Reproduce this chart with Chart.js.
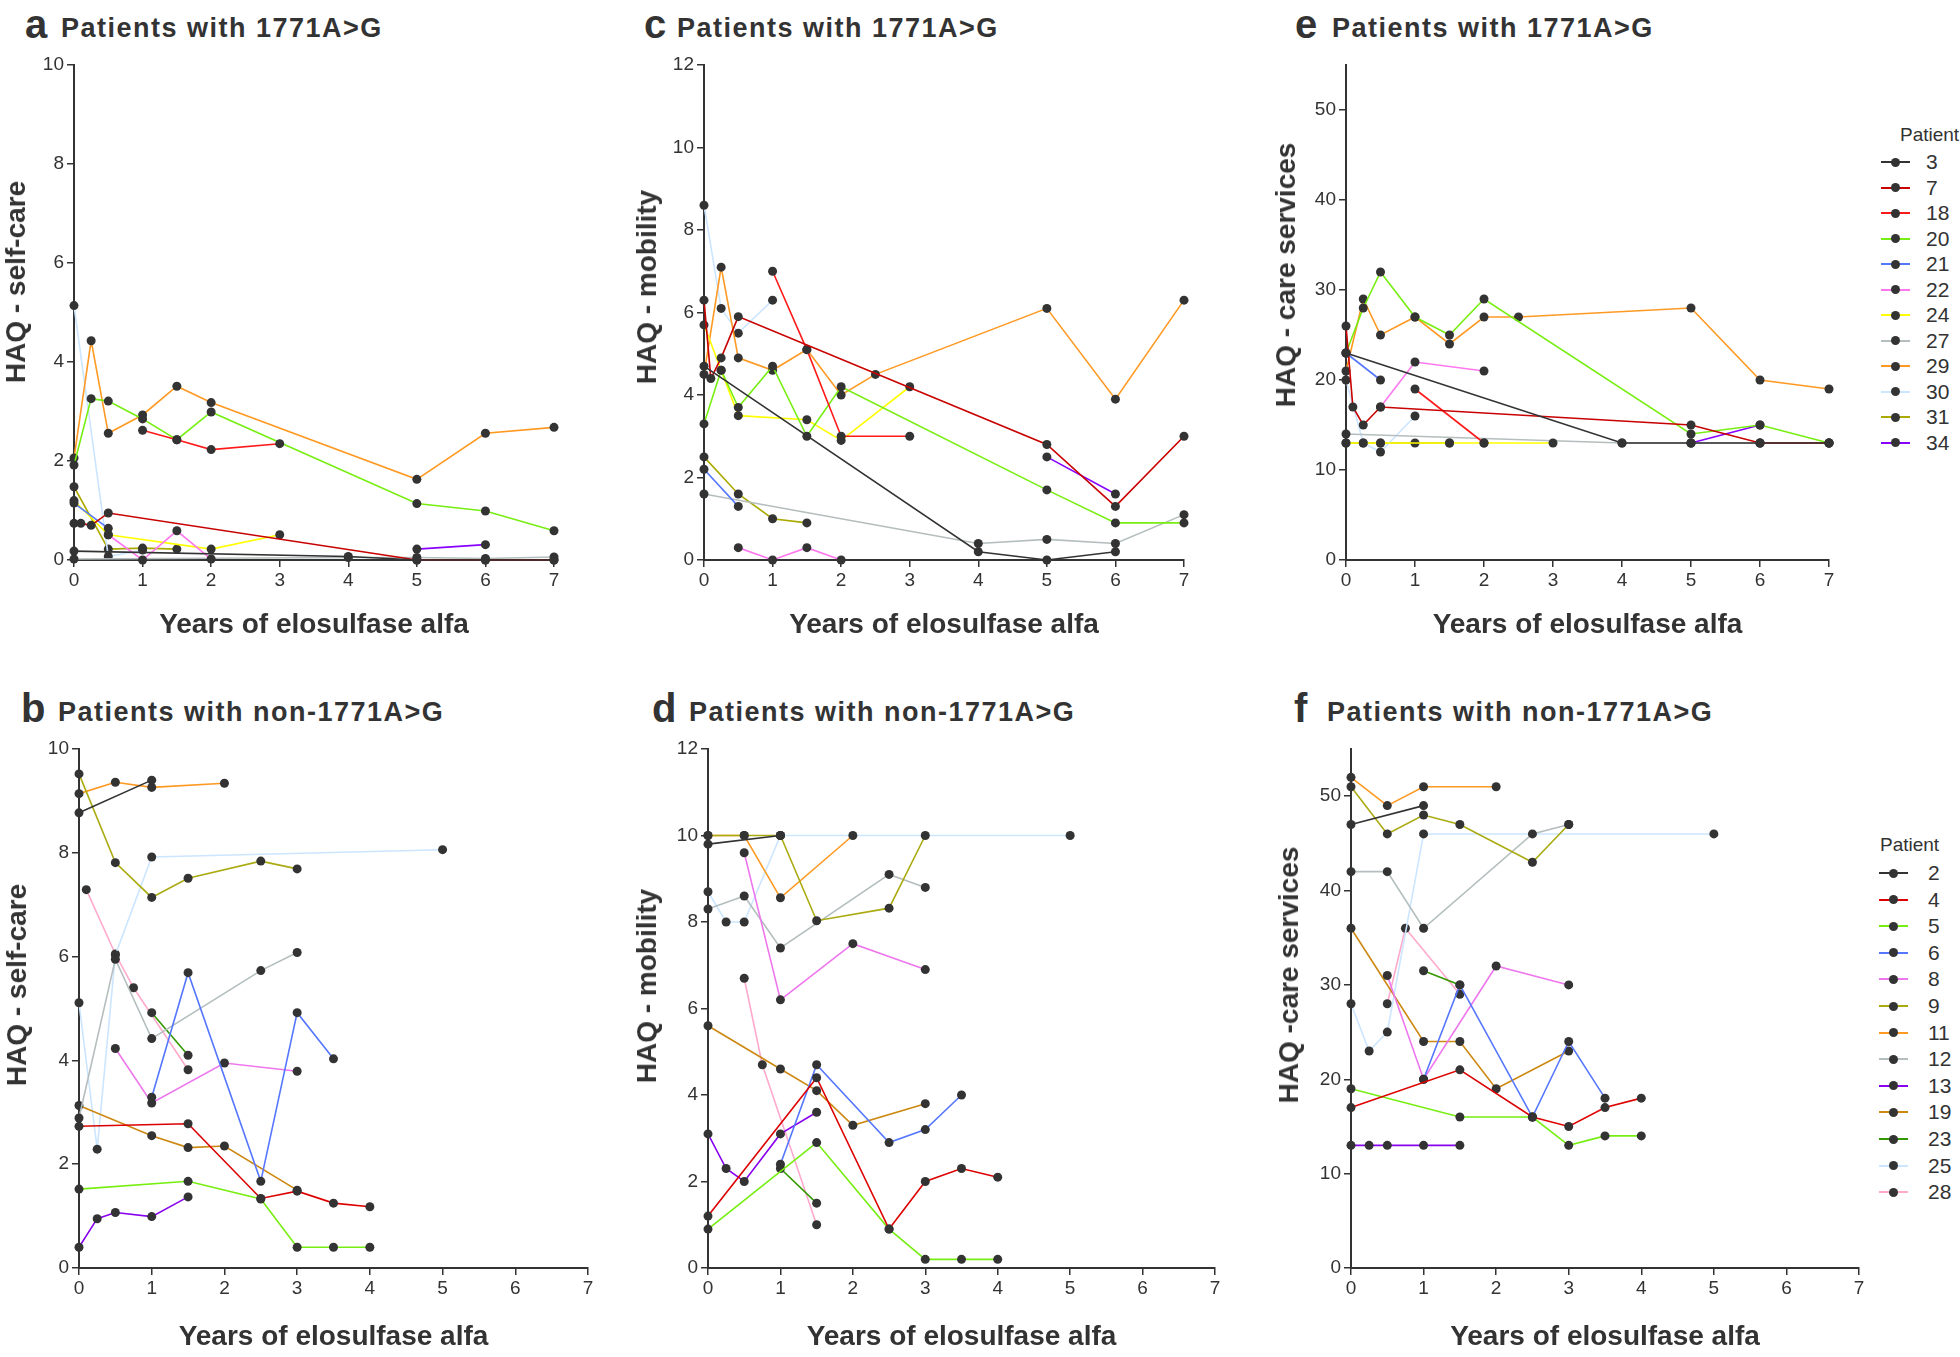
<!DOCTYPE html>
<html>
<head>
<meta charset="utf-8">
<title>HAQ domains during elosulfase alfa treatment</title>
<script src="https://cdn.jsdelivr.net/npm/chart.js"></script>
<style>
  body { margin: 0; background: #fff; width: 1960px; height: 1357px; position: relative; overflow: hidden;
         font-family: 'Liberation Sans', Arial, sans-serif; color: #333; }
  canvas { position: absolute; }
  .letter { position: absolute; font-size: 40px; font-weight: bold; line-height: 1; }
  .title { position: absolute; font-size: 27px; font-weight: bold; line-height: 1; letter-spacing: 1.5px; white-space: nowrap; }
  .ytitle { position: absolute; font-size: 28px; font-weight: bold; line-height: 1; white-space: nowrap;
            transform: translate(-50%, -50%) rotate(-90deg); }
  .lg { position: absolute; font-size: 21px; line-height: 22px; white-space: nowrap; }
  .lg-head { position: absolute; font-size: 19px; line-height: 22px; white-space: nowrap; }
  .lg-line { position: absolute; height: 2px; }
  .lg-dot { position: absolute; width: 9px; height: 9px; border-radius: 50%; background: #333; }
</style>
</head>
<body>
<canvas id="panelA"></canvas>
<canvas id="panelB"></canvas>
<canvas id="panelC"></canvas>
<canvas id="panelD"></canvas>
<canvas id="panelE"></canvas>
<canvas id="panelF"></canvas>
<script>
// ---- data ----
const yearTicks = [0, 1, 2, 3, 4, 5, 6, 7];

// patients with 1771A>G (panels a, c, e)
const patientsG = ['3', '7', '18', '20', '21', '22', '24', '27', '29', '30', '31', '34'];
// patients with non-1771A>G (panels b, d, f)
const patientsN = ['2', '4', '5', '6', '8', '9', '11', '12', '13', '19', '23', '25', '28'];

// each entry: [years, score] points of one patient, same order as the patient list
const selfCareG = [
  [[0, 0.18], [4, 0.07], [5, 0], [6, 0], [7, 0]],
  [[0, 0.74], [0.1, 0.74], [0.25, 0.7], [0.5, 0.95], [5, 0], [6, 0], [7, 0]],
  [[1, 2.62], [1.5, 2.43], [2, 2.23], [3, 2.35]],
  [[0, 1.92], [0.25, 3.26], [0.5, 3.21], [1, 2.85], [1.5, 2.43], [2, 2.99], [5, 1.14], [6, 0.99], [7, 0.59]],
  [[0, 1.15], [0.5, 0.64]],
  [[0.5, 0.51], [1, 0], [1.5, 0.59], [2, 0.02]],
  [[0, 1.2], [0.5, 0.51], [2, 0.22], [3, 0.51]],
  [[0, 0.02], [4, 0.05], [5, 0.05], [6, 0.03], [7, 0.06]],
  [[0, 2.06], [0.25, 4.43], [0.5, 2.56], [1, 2.93], [1.5, 3.51], [2, 3.18], [5, 1.63], [6, 2.56], [7, 2.68]],
  [[0, 5.14], [0.5, 0.07], [1, 0.2]],
  [[0, 1.48], [0.5, 0.22], [1, 0.24], [1.5, 0.22]],
  [[5, 0.22], [6, 0.31]]
];

const mobilityG = [
  [[0, 4.7], [4, 0.2], [5, 0], [6, 0.2]],
  [[0, 6.3], [0.1, 4.4], [0.25, 4.9], [0.5, 5.9], [5, 2.8], [6, 1.3], [7, 3.0]],
  [[1, 7.0], [1.5, 5.1], [2, 3.0], [3, 3.0]],
  [[0, 3.3], [0.25, 4.6], [0.5, 3.7], [1, 4.7], [1.5, 3.0], [2, 4.2], [5, 1.7], [6, 0.9], [7, 0.9]],
  [[0, 2.2], [0.5, 1.3]],
  [[0.5, 0.3], [1, 0], [1.5, 0.3], [2, 0]],
  [[0, 5.7], [0.25, 4.6], [0.5, 3.5], [1.5, 3.4], [2, 2.9], [3, 4.2]],
  [[0, 1.6], [4, 0.4], [5, 0.5], [6, 0.4], [7, 1.1]],
  [[0, 4.5], [0.25, 7.1], [0.5, 4.9], [1, 4.6], [1.5, 5.1], [2, 4.0], [2.5, 4.5], [5, 6.1], [6, 3.9], [7, 6.3]],
  [[0, 8.6], [0.25, 6.1], [0.5, 5.5], [1, 6.3]],
  [[0, 2.5], [0.5, 1.6], [1, 1.0], [1.5, 0.9]],
  [[5, 2.5], [6, 1.6]]
];

const careG = [
  [[0, 23], [4, 13], [5, 13], [6, 13], [7, 13]],
  [[0, 26], [0.1, 17], [0.25, 15], [0.5, 17], [5, 15], [6, 13], [7, 13]],
  [[1, 19], [2, 13]],
  [[0, 23], [0.25, 28], [0.5, 32], [1, 27], [1.5, 25], [2, 29], [5, 14], [6, 15], [7, 13]],
  [[0, 23], [0.5, 20]],
  [[0.5, 17], [1, 22], [2, 21]],
  [[0, 13], [0.25, 13], [0.5, 13], [1.5, 13], [2, 13], [3, 13]],
  [[0, 14], [4, 13], [5, 13], [6, 13], [7, 13]],
  [[0, 21], [0.25, 29], [0.5, 25], [1, 27], [1.5, 24], [2, 27], [2.5, 27], [5, 28], [6, 20], [7, 19]],
  [[0, 20], [0.25, 13], [0.5, 12], [1, 16]],
  [[0, 13], [0.5, 13], [1, 13], [1.5, 13]],
  [[5, 13], [6, 15]]
];

const selfCareN = [
  [[0, 8.77], [1, 9.4]],
  [[0, 2.73], [1.5, 2.78], [2.5, 1.34], [3, 1.48], [3.5, 1.25], [4, 1.18]],
  [[0, 1.52], [1.5, 1.67], [2.5, 1.33], [3, 0.4], [3.5, 0.4], [4, 0.4]],
  [[1, 3.29], [1.5, 5.69], [2.5, 1.67], [3, 4.92], [3.5, 4.03]],
  [[0.5, 4.23], [1, 3.18], [2, 3.95], [3, 3.79]],
  [[0, 9.52], [0.5, 7.81], [1, 7.14], [1.5, 7.51], [2.5, 7.84], [3, 7.69]],
  [[0, 9.14], [0.5, 9.36], [1, 9.26], [2, 9.34]],
  [[0, 2.89], [0.5, 5.95], [1, 4.42], [2.5, 5.73], [3, 6.08]],
  [[0, 0.4], [0.25, 0.95], [0.5, 1.07], [1, 0.99], [1.5, 1.37]],
  [[0, 3.13], [1, 2.55], [1.5, 2.32], [2, 2.35], [3, 1.5]],
  [[1, 4.92], [1.5, 4.1]],
  [[0, 5.11], [0.25, 2.29], [0.5, 6.03], [1, 7.92], [5, 8.06]],
  [[0.1, 7.29], [0.5, 6.05], [0.75, 5.4], [1.5, 3.82]]
];

const mobilityN = [
  [[0, 9.8], [1, 10]],
  [[0, 1.2], [1.5, 4.4], [2.5, 0.9], [3, 2.0], [3.5, 2.3], [4, 2.1]],
  [[0, 0.9], [1.5, 2.9], [2.5, 0.9], [3, 0.2], [3.5, 0.2], [4, 0.2]],
  [[1, 2.4], [1.5, 4.7], [2.5, 2.9], [3, 3.2], [3.5, 4.0]],
  [[0.5, 9.6], [1, 6.2], [2, 7.5], [3, 6.9]],
  [[0, 10], [0.5, 10], [1, 10], [1.5, 8.03], [2.5, 8.32], [3, 10]],
  [[0, 10], [0.5, 10], [1, 8.56], [2, 10]],
  [[0, 8.3], [0.5, 8.6], [1, 7.4], [2.5, 9.1], [3, 8.8]],
  [[0, 3.1], [0.25, 2.3], [0.5, 2.0], [1, 3.1], [1.5, 3.6]],
  [[0, 5.6], [1, 4.6], [1.5, 4.1], [2, 3.3], [3, 3.8]],
  [[1, 2.3], [1.5, 1.5]],
  [[0, 8.7], [0.25, 8.0], [0.5, 8.0], [1, 10], [5, 10]],
  [[0.5, 6.7], [0.75, 4.7], [1.5, 1.0]]
];

const careN = [
  [[0, 47], [1, 49]],
  [[0, 17], [1.5, 21], [2.5, 16], [3, 15], [3.5, 17], [4, 18]],
  [[0, 19], [1.5, 16], [2.5, 16], [3, 13], [3.5, 14], [4, 14]],
  [[1, 20], [1.5, 30], [2.5, 16], [3, 24], [3.5, 18]],
  [[0.5, 31], [1, 20], [2, 32], [3, 30]],
  [[0, 51], [0.5, 46], [1, 48], [1.5, 47], [2.5, 43], [3, 47]],
  [[0, 52], [0.5, 49], [1, 51], [2, 51]],
  [[0, 42], [0.5, 42], [1, 36], [2.5, 46], [3, 47]],
  [[0, 13], [0.25, 13], [0.5, 13], [1, 13], [1.5, 13]],
  [[0, 36], [1, 24], [1.5, 24], [2, 19], [3, 23]],
  [[1, 31.5], [1.5, 30]],
  [[0, 28], [0.25, 23], [0.5, 25], [1, 46], [5, 46]],
  [[0.5, 28], [0.75, 36], [1.5, 29]]
];

// ---- styles ----
const coloursG = ['#333333', '#c80000', '#ff1a1a', '#77ee11', '#5577ff', '#ff77ee',
                  '#ffff00', '#b4bebe', '#ff9922', '#cce6ff', '#aaaa00', '#8800ff'];
const coloursN = ['#333333', '#dd0000', '#77ee11', '#5577ff', '#ee77ee', '#aaaa11', '#ff9922',
                  '#b4bebe', '#8800ee', '#cc8811', '#339900', '#cce6ff', '#ffaacc'];

Chart.defaults.font.family = "'Liberation Sans', Arial, sans-serif";
Chart.defaults.color = '#333';

function addText(cls, text, left, top) {
  const el = document.createElement('div');
  el.className = cls;
  el.textContent = text;
  el.style.left = left + 'px';
  el.style.top = top + 'px';
  document.body.appendChild(el);
}

// area = plot box of the panel in page pixels
function drawPanel(id, area, yMax, yStep, series, patients, colours) {
  const yW = 58, padTop = 15, padRight = 15;
  const canvas = document.getElementById(id);
  const left = area.left - yW, top = area.top - padTop;
  canvas.width = area.right + padRight - left;
  canvas.height = area.bottom + area.xH - top;
  canvas.style.left = left + 'px';
  canvas.style.top = top + 'px';

  const tickFont = { size: 19 };
  const axisGrid = { drawOnChartArea: false, tickLength: 7, color: '#333', lineWidth: 1.5 };
  const axisBorder = { color: '#333', width: 2 };

  new Chart(canvas, {
    type: 'scatter',
    data: {
      datasets: series.map((pts, i) => ({
        label: patients[i],
        data: pts.map(p => ({ x: p[0], y: p[1] })),
        showLine: true,
        borderColor: colours[i],
        borderWidth: 1.6,
        pointRadius: 4.5,
        pointBackgroundColor: '#333',
        pointBorderWidth: 0,
        clip: false
      }))
    },
    options: {
      responsive: false,
      animation: false,
      layout: { padding: { top: padTop, right: padRight, left: 0, bottom: 0 } },
      plugins: { legend: { display: false }, tooltip: { enabled: false } },
      scales: {
        x: {
          type: 'linear', min: yearTicks[0], max: yearTicks[yearTicks.length - 1],
          afterBuildTicks: s => { s.ticks = yearTicks.map(v => ({ value: v })); },
          ticks: { font: tickFont, color: '#333', padding: 2, maxRotation: 0 },
          grid: axisGrid, border: axisBorder,
          title: { display: true, text: 'Years of elosulfase alfa', color: '#333',
                   font: { size: 28, weight: 'bold' }, padding: 0 },
          afterFit: s => { s.height = area.xH; }
        },
        y: {
          min: 0, max: yMax,
          ticks: { stepSize: yStep, includeBounds: false, font: tickFont, color: '#333', padding: 3 },
          grid: axisGrid, border: axisBorder,
          afterFit: s => { s.width = yW; }
        }
      }
    }
  });
}

function drawLegend(lg, patients, colours) {
  addText('lg-head', 'Patient', lg.headX, lg.headY - 11);
  patients.forEach((p, i) => {
    const cy = lg.firstY + i * lg.step;
    const line = document.createElement('div');
    line.className = 'lg-line';
    line.style.left = lg.lineX + 'px';
    line.style.top = (cy - 1) + 'px';
    line.style.width = '29px';
    line.style.background = colours[i];
    document.body.appendChild(line);
    const dot = document.createElement('div');
    dot.className = 'lg-dot';
    dot.style.left = (lg.lineX + 10) + 'px';
    dot.style.top = (cy - 4.5) + 'px';
    document.body.appendChild(dot);
    addText('lg', p, lg.labelX, cy - 11);
  });
}

// ---- layout ----
const panels = [
  { id: 'panelA', letter: 'a', title: 'Patients with 1771A>G', ytitle: 'HAQ - self-care',
    area: { left: 74, top: 65, right: 554, bottom: 560, xH: 82 }, yMax: 10, yStep: 2,
    series: selfCareG, patients: patientsG, colours: coloursG,
    letterX: 25, titleX: 61, baseY: 38, yt: [16, 282] },
  { id: 'panelC', letter: 'c', title: 'Patients with 1771A>G', ytitle: 'HAQ - mobility',
    area: { left: 704, top: 65, right: 1184, bottom: 560, xH: 82 }, yMax: 12, yStep: 2,
    series: mobilityG, patients: patientsG, colours: coloursG,
    letterX: 644, titleX: 677, baseY: 38, yt: [647, 287] },
  { id: 'panelE', letter: 'e', title: 'Patients with 1771A>G', ytitle: 'HAQ - care services',
    area: { left: 1346, top: 65, right: 1829, bottom: 560, xH: 82 }, yMax: 55, yStep: 10,
    series: careG, patients: patientsG, colours: coloursG,
    letterX: 1295, titleX: 1332, baseY: 38, yt: [1286, 275],
    legend: { headX: 1900, headY: 135, firstY: 162, step: 25.5, lineX: 1881, labelX: 1926 } },
  { id: 'panelB', letter: 'b', title: 'Patients with non-1771A>G', ytitle: 'HAQ - self-care',
    area: { left: 79, top: 749, right: 588, bottom: 1268, xH: 86 }, yMax: 10, yStep: 2,
    series: selfCareN, patients: patientsN, colours: coloursN,
    letterX: 21, titleX: 58, baseY: 722, yt: [17, 985] },
  { id: 'panelD', letter: 'd', title: 'Patients with non-1771A>G', ytitle: 'HAQ - mobility',
    area: { left: 708, top: 749, right: 1215, bottom: 1268, xH: 86 }, yMax: 12, yStep: 2,
    series: mobilityN, patients: patientsN, colours: coloursN,
    letterX: 652, titleX: 689, baseY: 722, yt: [647, 986] },
  { id: 'panelF', letter: 'f', title: 'Patients with non-1771A>G', ytitle: 'HAQ -care services',
    area: { left: 1351, top: 749, right: 1859, bottom: 1268, xH: 86 }, yMax: 55, yStep: 10,
    series: careN, patients: patientsN, colours: coloursN,
    letterX: 1294, titleX: 1327, baseY: 722, yt: [1289, 975],
    legend: { headX: 1880, headY: 845, firstY: 873, step: 26.6, lineX: 1879, labelX: 1928 } }
];

panels.forEach(p => {
  drawPanel(p.id, p.area, p.yMax, p.yStep, p.series, p.patients, p.colours);
  addText('letter', p.letter, p.letterX, p.baseY - Math.round(0.8465 * 40));
  addText('title', p.title, p.titleX, p.baseY - Math.round(0.8465 * 27));
  addText('ytitle', p.ytitle, p.yt[0], p.yt[1]);
  if (p.legend) drawLegend(p.legend, p.patients, p.colours);
});
</script>
</body>
</html>
